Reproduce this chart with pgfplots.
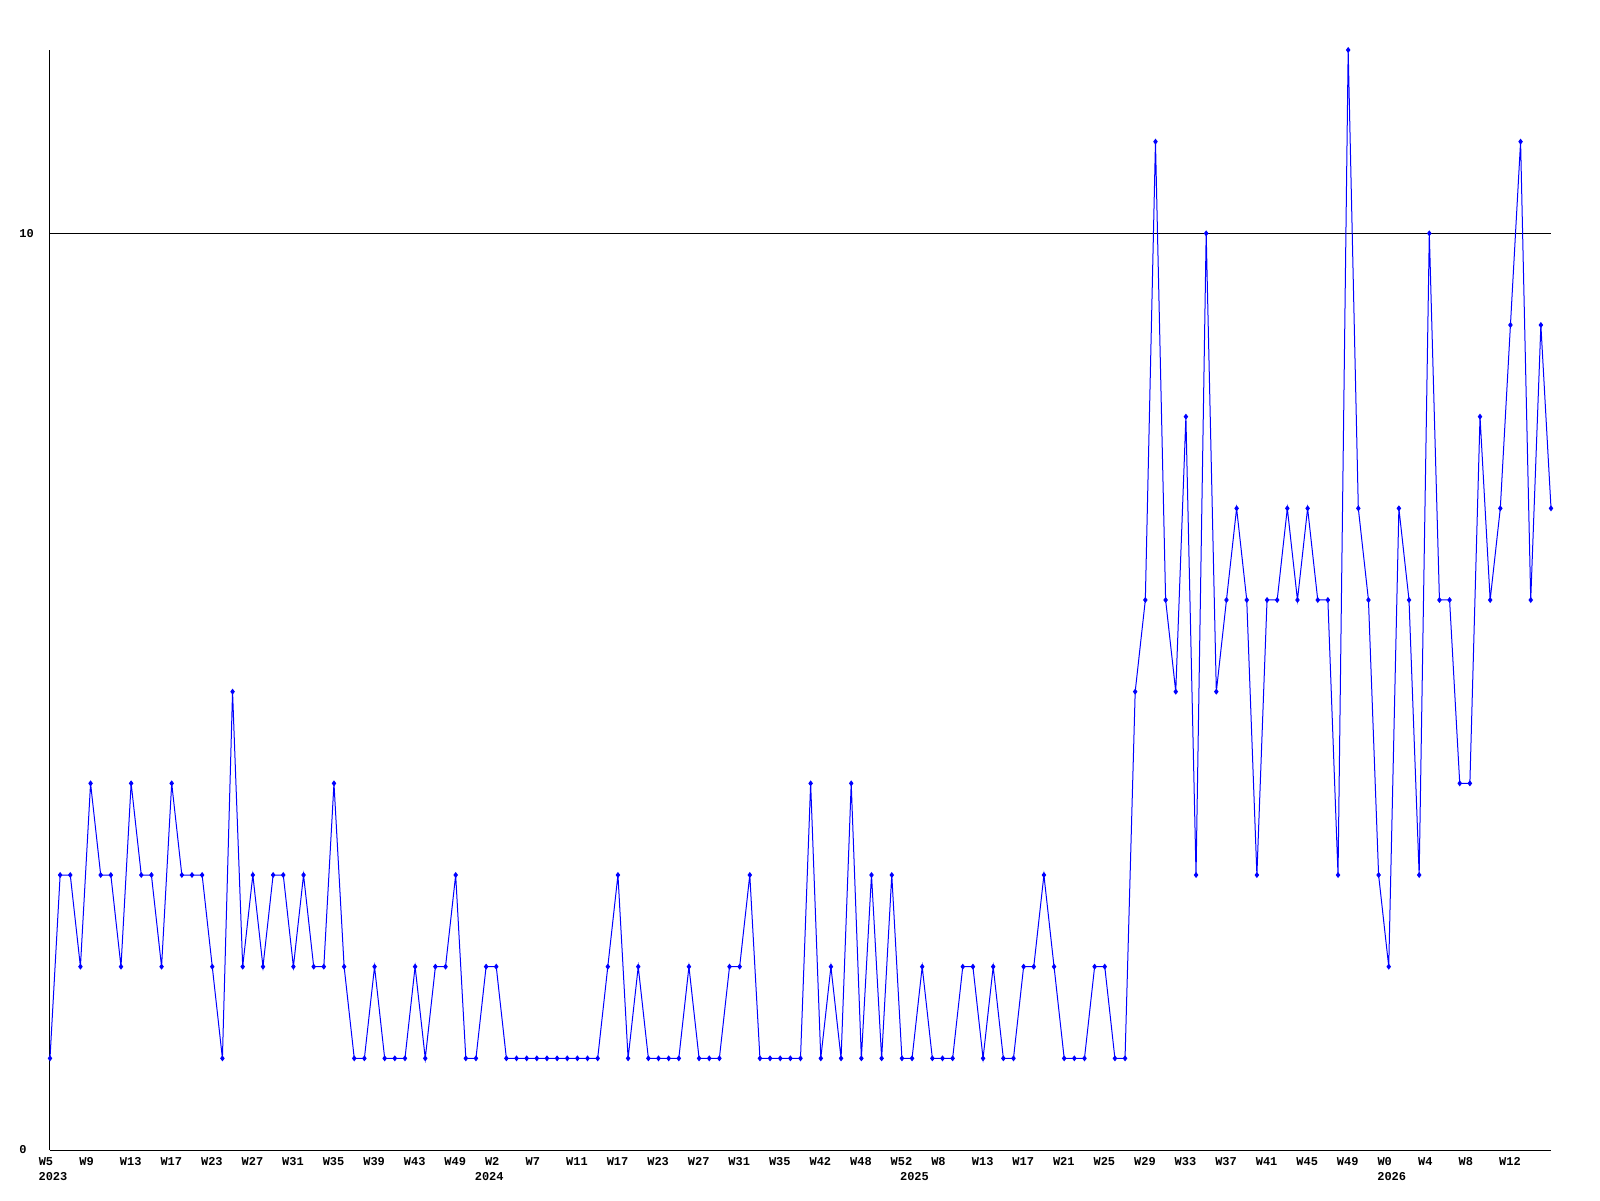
\documentclass[border=0pt]{standalone}
\usepackage{fontspec}
\setmonofont{Liberation Mono}
\usepackage{pgfplots}
\pgfplotsset{compat=1.18}

\begin{document}
\begin{tikzpicture}
% 1 px of the 1600x1200 reference = 0.5pt
\path[use as bounding box] (-25pt,-25pt) rectangle (775pt,575pt);
\begin{axis}[
  at={(0,0)}, anchor=south west,
  scale only axis,
  width=750.5pt, height=550pt,
  xmin=0, xmax=148, ymin=0, ymax=12,
  axis x line=bottom, axis y line=left,
  axis line style={-, black, line width=0.5pt},
  major tick length=0pt,
  ytick={0,10},
  ymajorgrids,
  grid style={black, line width=0.5pt},
  xtick={0,4,...,144},
  xticklabels={
    {W5\\\makebox[0pt]{\kern7pt 2023}},W9,W13,W17,W23,W27,W31,W35,W39,W43,W49,
    {W2\\\makebox[0pt]{\kern-3pt 2024}},W7,W11,W17,W23,W27,W31,W35,W42,W48,W52,
    {W8\\\makebox[0pt]{\kern-24pt 2025}},W13,W17,W21,W25,W29,W33,W37,W41,W45,W49,
    {W0\\\makebox[0pt]{\kern7pt 2026}},W4,W8,W12},
  /pgf/number format/assume math mode=true,
  ticklabel style={font=\ttfamily\bfseries\fontsize{6}{7.5}\selectfont},
  xticklabel style={anchor=north west, align=center, inner sep=0pt, yshift=-3.5pt, xshift=-5.8pt},
  yticklabel style={anchor=west, inner sep=0pt, xshift=-15.5pt},
  clip=false,
]
\addplot[color={rgb,255:red,0;green,0;blue,255}, line width=0.5pt, mark=diamond*, mark size=1.1pt, mark options={solid}]
coordinates {
(0,1)(1,3)(2,3)(3,2)(4,4)(5,3)(6,3)(7,2)(8,4)(9,3)(10,3)(11,2)(12,4)(13,3)(14,3)(15,3)(16,2)(17,1)(18,5)(19,2)
(20,3)(21,2)(22,3)(23,3)(24,2)(25,3)(26,2)(27,2)(28,4)(29,2)(30,1)(31,1)(32,2)(33,1)(34,1)(35,1)(36,2)
(37,1)(38,2)(39,2)(40,3)(41,1)(42,1)(43,2)(44,2)(45,1)(46,1)(47,1)(48,1)(49,1)(50,1)(51,1)(52,1)(53,1)(54,1)
(55,2)(56,3)(57,1)(58,2)(59,1)(60,1)(61,1)(62,1)(63,2)(64,1)(65,1)(66,1)(67,2)(68,2)(69,3)(70,1)(71,1)(72,1)
(73,1)(74,1)(75,4)(76,1)
(77,2)(78,1)(79,4)(80,1)(81,3)(82,1)(83,3)(84,1)(85,1)(86,2)(87,1)(88,1)(89,1)(90,2)(91,2)(92,1)(93,2)(94,1)
(95,1)(96,2)(97,2)(98,3)(99,2)(100,1)(101,1)(102,1)(103,2)(104,2)(105,1)(106,1)
(107,5)(108,6)(109,11)(110,6)(111,5)(112,8)(113,3)(114,10)(115,5)(116,6)(117,7)(118,6)(119,3)(120,6)(121,6)
(122,7)(123,6)(124,7)(125,6)(126,6)(127,3)(128,12)(129,7)(130,6)(131,3)(132,2)(133,7)(134,6)(135,3)(136,10)
(137,6)(138,6)(139,4)(140,4)(141,8)(142,6)(143,7)(144,9)(145,11)(146,6)(147,9)(148,7)
};
\end{axis}
\end{tikzpicture}
\end{document}
